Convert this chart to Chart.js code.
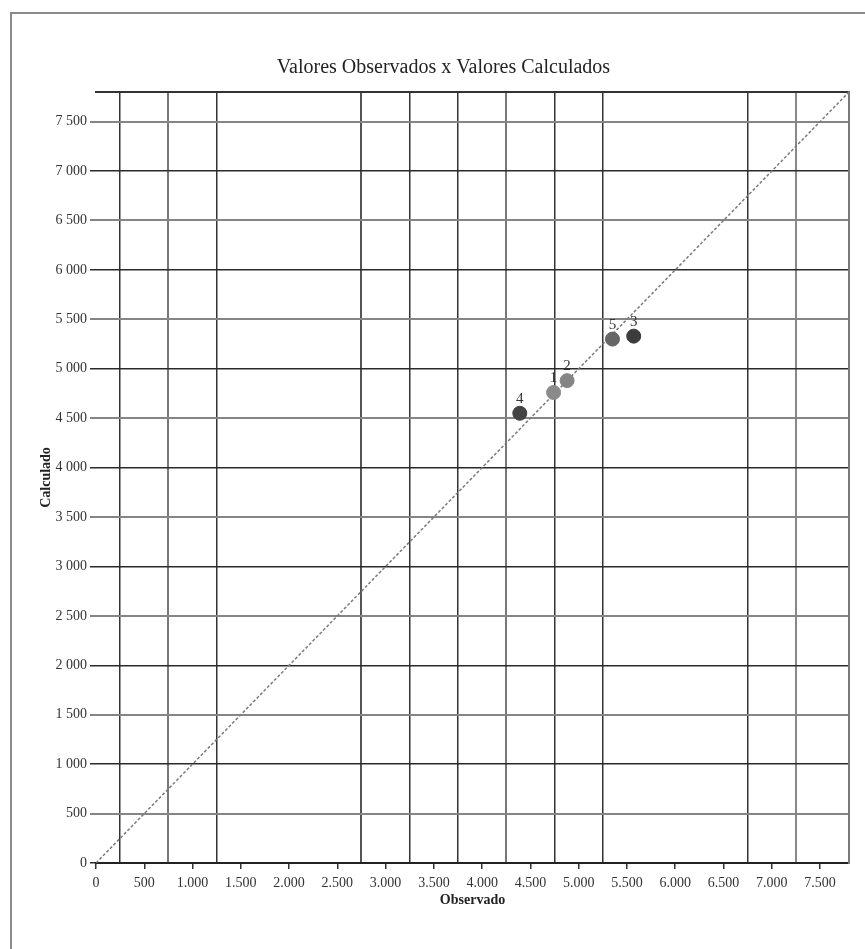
<!DOCTYPE html>
<html lang="pt">
<head>
<meta charset="utf-8">
<title>Valores Observados x Valores Calculados</title>
<script src="https://cdn.jsdelivr.net/npm/chart.js@4.4.1/dist/chart.umd.min.js"></script>
<style>
    html, body { margin: 0; padding: 0; background: #fff; overflow: hidden; }
    #wrap { position: relative; width: 865px; height: 949px; }
    #frame {
        position: absolute; left: 10px; top: 12px; width: 1000px; height: 1000px;
        border-left: 2px solid #8a8a8a; border-top: 2px solid #8a8a8a;
    }
    #chartBox { position: absolute; left: 0; top: 0; width: 865px; height: 949px; }
</style>
</head>
<body>
<div id="wrap">
    <div id="frame"></div>
    <div id="chartBox"><canvas id="obsCalcChart"></canvas></div>
</div>
<script>
// pontos numerados 1..5
const pointLabels = ['1', '2', '3', '4', '5'];
const observado = [4740, 4880, 5570, 4390, 5350];
const calculado = [4760, 4880, 5330, 4550, 5300];
const pointColors = ['#8a8a8a', '#858585', '#3c3c3c', '#444444', '#666666'];

// eixos
const axisMin = 0;
const axisMax = 7800;
const tickValues = [0, 500, 1000, 1500, 2000, 2500, 3000, 3500, 4000, 4500, 5000, 5500, 6000, 6500, 7000, 7500];
const xTickLabels = ['0', '500', '1.000', '1.500', '2.000', '2.500', '3.000', '3.500', '4.000', '4.500', '5.000', '5.500', '6.000', '6.500', '7.000', '7.500'];
const yTickLabels = ['0', '500', '1 000', '1 500', '2 000', '2 500', '3 000', '3 500', '4 000', '4 500', '5 000', '5 500', '6 000', '6 500', '7 000', '7 500'];
// linhas verticais da grade (não coincidem com os ticks)
const verticalLines = [250, 750, 1250, 2750, 3250, 3750, 4250, 4750, 5250, 6750, 7250];
const verticalColors = ['#333', '#777', '#333', '#555', '#333', '#333', '#777', '#333', '#333', '#333', '#888'];
// reta y = x
const refLine = [axisMin, axisMax];

const FONT = "'Liberation Serif', 'Times New Roman', serif";

const pointLabelPlugin = {
    id: 'pointLabels',
    afterDatasetsDraw(chart) {
        const meta = chart.getDatasetMeta(0);
        const ctx = chart.ctx;
        ctx.save();
        ctx.font = '15px ' + FONT;
        ctx.fillStyle = '#333';
        ctx.textAlign = 'center';
        ctx.textBaseline = 'bottom';
        meta.data.forEach((pt, i) => {
            ctx.fillText(pointLabels[i], pt.x, pt.y - 7);
        });
        ctx.restore();
    }
};

function setTicks(values) {
    return (scale) => {
        scale.ticks = values.map(v => ({ value: v }));
    };
}

function drawChart() {
    const ctx = document.getElementById('obsCalcChart').getContext('2d');

    new Chart(ctx, {
        data: {
            datasets: [
                {
                    type: 'scatter',
                    data: observado.map((x, i) => ({ x: x, y: calculado[i] })),
                    backgroundColor: pointColors,
                    borderColor: pointColors,
                    pointRadius: 7,
                    pointHoverRadius: 7
                },
                {
                    type: 'line',
                    data: refLine.map(v => ({ x: v, y: v })),
                    borderColor: '#7a7a7a',
                    borderWidth: 1.5,
                    borderDash: [3, 2],
                    pointRadius: 0,
                    fill: false
                }
            ]
        },
        options: {
            responsive: true,
            maintainAspectRatio: false,
            animation: false,
            layout: { padding: { left: 38, right: 16, top: 0, bottom: 26 } },
            plugins: {
                legend: { display: false },
                tooltip: { enabled: false },
                title: {
                    display: true,
                    text: 'Valores Observados x Valores Calculados',
                    color: '#222',
                    font: { family: FONT, size: 20, weight: 'normal' },
                    padding: { top: 56, bottom: 12 }
                }
            },
            scales: {
                x: {
                    type: 'linear',
                    position: 'bottom',
                    min: axisMin,
                    max: axisMax,
                    afterBuildTicks: setTicks(tickValues),
                    afterFit: (scale) => { scale.height = 60; },
                    border: { display: true, color: '#222', width: 2 },
                    grid: { drawOnChartArea: false, drawTicks: true, tickLength: 6, color: '#333', lineWidth: 1.5 },
                    ticks: {
                        autoSkip: false,
                        maxRotation: 0,
                        padding: 6,
                        color: '#333',
                        font: { family: FONT, size: 14 },
                        callback: (value, index) => xTickLabels[index]
                    },
                    title: {
                        display: true,
                        text: 'Observado',
                        color: '#222',
                        font: { family: FONT, size: 14, weight: 'bold' },
                        padding: { top: 0, bottom: 14 }
                    }
                },
                x2: {
                    type: 'linear',
                    position: 'top',
                    min: axisMin,
                    max: axisMax,
                    afterBuildTicks: setTicks(verticalLines),
                    afterFit: (scale) => { scale.height = 0; },
                    border: { display: true, color: '#333', width: 2 },
                    grid: {
                        drawTicks: false,
                        color: (c) => verticalColors[c.index] || '#333',
                        lineWidth: (c) => (verticalColors[c.index] === '#333' ? 1.5 : 2)
                    },
                    ticks: { display: false }
                },
                y: {
                    type: 'linear',
                    position: 'left',
                    min: axisMin,
                    max: axisMax,
                    afterBuildTicks: setTicks(tickValues),
                    afterFit: (scale) => { scale.width = 58; },
                    border: { display: false },
                    grid: {
                        drawTicks: true,
                        tickLength: 6,
                        color: (c) => (c.tick && c.tick.value % 1000 === 0 ? '#2a2a2a' : '#858585'),
                        lineWidth: (c) => (c.tick && c.tick.value % 1000 === 0 ? 1.5 : 2)
                    },
                    ticks: {
                        autoSkip: false,
                        padding: 3,
                        color: '#333',
                        font: { family: FONT, size: 14 },
                        callback: (value, index) => yTickLabels[index]
                    },
                    title: {
                        display: true,
                        text: 'Calculado',
                        color: '#222',
                        font: { family: FONT, size: 14, weight: 'bold' },
                        padding: { top: 0, bottom: 0 }
                    }
                },
                y2: {
                    type: 'linear',
                    position: 'right',
                    min: axisMin,
                    max: axisMax,
                    afterFit: (scale) => { scale.width = 0; },
                    border: { display: true, color: '#7a7a7a', width: 2 },
                    grid: { display: false },
                    ticks: { display: false }
                }
            }
        },
        plugins: [pointLabelPlugin]
    });
}

document.addEventListener('DOMContentLoaded', drawChart);
</script>
</body>
</html>
